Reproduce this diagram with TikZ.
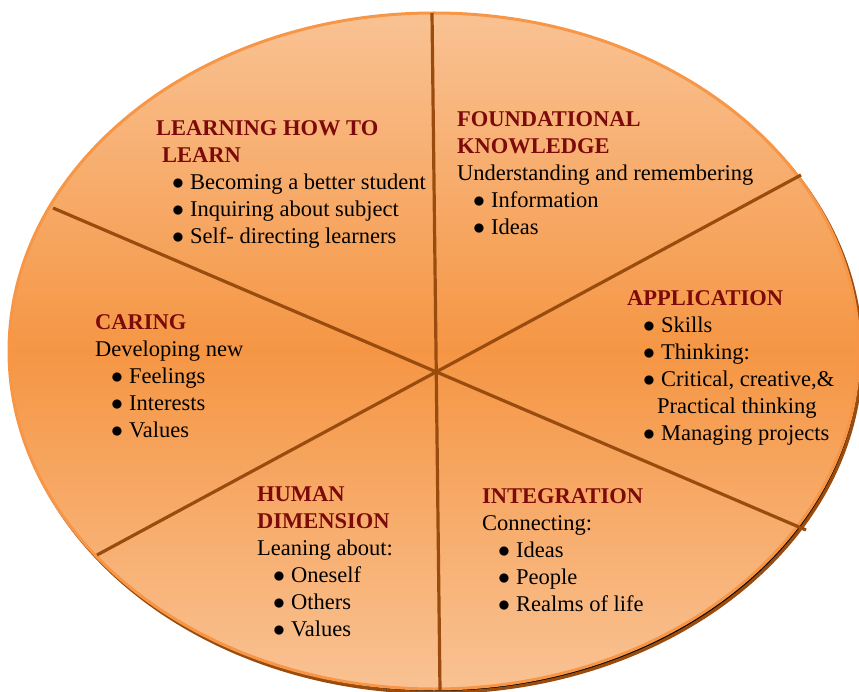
\documentclass[tikz,border=0pt]{standalone}
\usepackage{fontspec}
\setmainfont{Liberation Serif}
\definecolor{peach}{HTML}{F9C293}
\definecolor{tangerine}{HTML}{F59644}
\definecolor{rim}{HTML}{F79646}
\definecolor{spoke}{HTML}{9A4C0E}
\definecolor{maroon}{HTML}{7D0A0A}
\newcommand{\bul}[1]{\hspace*{16pt}\makebox[18pt][l]{\scalebox{1.15}{$\bullet$}}#1}
\newcommand{\head}[1]{\textcolor{maroon}{\bfseries #1}}

\begin{document}
\begin{tikzpicture}[x=1pt,y=-1pt,
    block/.style={anchor=base west,inner sep=0pt,align=left,font=\fontsize{22.5}{27}\selectfont},
    spoke/.style={draw=spoke,line width=3.2pt}]
            \useasboundingbox (0,0) rectangle (859,692);
            \fill[spoke] (436.5,354.5) ellipse [x radius=425pt,y radius=338pt];
            \shade[top color=peach,bottom color=peach,middle color=tangerine,draw=rim,line width=3pt]
                (434,351) ellipse [x radius=425pt,y radius=338pt];

            \coordinate (t)  at (432,13);
            \coordinate (b)  at (440,690);
            \coordinate (ul) at (53,208);
            \coordinate (lr) at (806,530);
            \coordinate (ur) at (801,175);
            \coordinate (ll) at (97,555);

            \draw[spoke] (t)  -- (b);
            \draw[spoke] (ul) -- (lr);
            \draw[spoke] (ur) -- (ll);

            \node[block] (learn) at (156,244) {\head{LEARNING HOW TO}\\\hspace*{6pt}\head{LEARN}\\
                \bul{Becoming a better student}\\\bul{Inquiring about subject}\\\bul{Self- directing learners}};
            \node[block] (found) at (457,235) {\head{FOUNDATIONAL}\\\head{KNOWLEDGE}\\
                Understanding and remembering\\\bul{Information}\\\bul{Ideas}};
            \node[block] (appl) at (627,440) {\head{APPLICATION}\\\bul{Skills}\\\bul{Thinking:}\\
                \bul{Critical, creative,\&}\\\hspace*{30pt}Practical thinking\\\bul{Managing projects}};
            \node[block] (caring) at (95,437) {\head{CARING}\\Developing new\\
                \bul{Feelings}\\\bul{Interests}\\\bul{Values}};
            \node[block] (human) at (257,636) {\head{HUMAN}\\\head{DIMENSION}\\Leaning about:\\
                \bul{Oneself}\\\bul{Others}\\\bul{Values}};
            \node[block] (integ) at (482,611) {\head{INTEGRATION}\\Connecting:\\
                \bul{Ideas}\\\bul{People}\\\bul{Realms of life}};
        \end{tikzpicture}
\end{document}
